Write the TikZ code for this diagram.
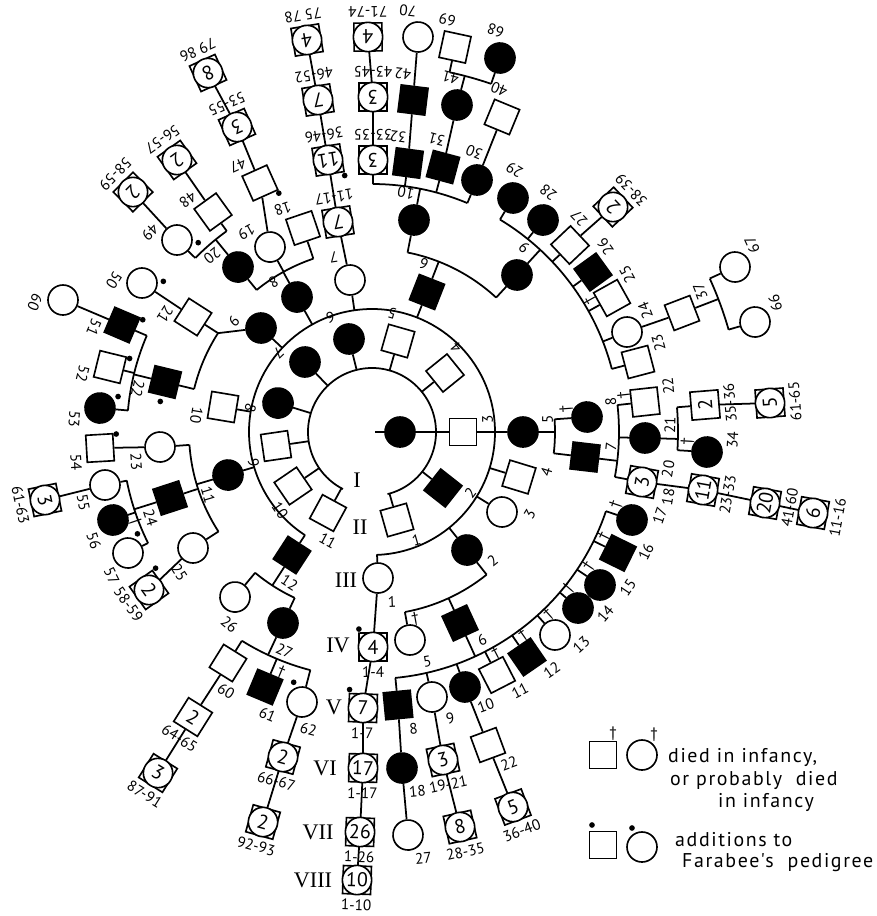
\documentclass[tikz,border=0pt]{standalone}
\usepackage{fontspec}
\setmainfont{PT Sans}
\newfontfamily\romfont{Liberation Serif}
\newfontfamily\legfont[LetterSpace=8]{PT Sans}
\usetikzlibrary{calc}

\begin{document}
\begin{tikzpicture}[x=0.3mm,y=-0.3mm,
  ln/.style={line width=1.5pt},
  sym/.style={draw,line width=1.4pt,inner sep=0pt,fill=white},
  male/.style={sym,rectangle,minimum size=8.1mm},
  maleaff/.style={male,fill=black},
  fem/.style={sym,circle,minimum size=9mm},
  femaff/.style={fem,fill=black},
  grpsq/.style={sym,rectangle,minimum size=8.4mm},
  grpc/.style={sym,circle,minimum size=8.8mm,font=\fontsize{17}{17}\selectfont},
  grps/.style={circle,inner sep=0pt,font=\fontsize{17}{17}\selectfont},
  lab/.style={inner sep=0pt,font=\fontsize{13}{13}\selectfont},
  rom/.style={inner sep=0pt,font=\romfont\fontsize{19}{19}\selectfont},
  leg/.style={anchor=west,inner sep=0pt,font=\legfont\fontsize{17}{17}\selectfont},
  dotm/.style={circle,fill=black,inner sep=0pt,minimum size=1.7mm},
  dagm/.style={inner sep=0pt,font=\fontsize{13}{13}\selectfont}]
\useasboundingbox (0,0) rectangle (877,916);
\coordinate (C) at (372,432);
\coordinate (c0) at (375,432);
\node[femaff] (gi) at (400,432) {};
\draw[ln] (c0) -- ($(C)+(0:64)$);
\foreach \sa/\ea/\rad in {76/-243/64, 88/-237/123, 79.6/51.2/183, 6.7/-4/183, -47.3/-78.8/183,
  -108.7/-129.1/183, -147.3/-166.4/183, 176/147/183, 129.7/115/183, 84.6/18.7/247, 10.5/-6.3/247,
  -14.7/-58.9/248, -67.4/-89.8/248, -125.9/-135.4/248, -156.8/-175/245, 168.8/153.6/250,
  121.9/104.5/246, 3.4/-4.6/306, -71.1/-77.8/368, -16/-24.4/371}
  \draw[ln] ($(C)+(\sa:\rad)$) arc[start angle=\sa, end angle=\ea, radius=\rad];
\foreach \nm/\x/\y/\st/\lb/\rad/\mk in {
  ii1/397/520/male/1/64/n, ii2/443/488/maleaff/2/64/n, ii3/463/432/male/3/64/n,
  ii4/445/373/male/4/64/n, ii5/398/341/male/5/64/n, ii6/349/339/femaff/6/64/n,
  ii7/305/362/femaff/7/64/n, ii8/278/403/femaff/8/64/n, ii9/276/446/male/9/64/n,
  ii10/293/486/male/10/64/n, ii11/328/513/male/11/64/n,
  iii1/378/578/fem/1/123/n, iii2/467/550/femaff/2/123/n, iii3/502/512/fem/3/123/n,
  iii4/519/477/male/4/123/n, iii5/523/432/femaff/5/123/n, iii6/427/292/maleaff/6/123/n,
  iii7/350/280/fem/7/123/n, iii8/297/297/femaff/8/123/n, iii9/261/328/femaff/9/123/n,
  iii10/223/407/male/10/123/n, iii11/228/475/femaff/11/123/n, iii12/292/555/maleaff/12/123/n,
  iv5/410/640/fem/5/183/c, iv6/460/623/maleaff/6/183/n, iv7/585/457/maleaff/7/183/n,
  iv8/587/417/femaff/8/183/c, iv9/517/275/femaff/9/183/n, iv10/414/220/femaff/10/183/n,
  iv18/303/228/male/18/183/n, iv19/270/247/fem/19/183/n, iv20/238/267/femaff/20/183/n,
  iv21/193/317/male/21/183/n, iv22/165/382/maleaff/22/183/r, iv23/160/447/fem/23/183/n,
  iv24/170/498/maleaff/24/183/n, iv25/193/548/fem/25/183/n, iv26/235/597/fem/26/183/n,
  iv27/283/623/femaff/27/183/n,
  v8/398/705/maleaff/8/247/n, v9/432/697/fem/9/247/n, v10/465/687/femaff/10/247/n,
  v11/497/675/male/11/247/c, v12/527/657/maleaff/12/247/c, v13/555/635/fem/13/247/c,
  v14/578/608/femaff/14/247/c, v15/600/585/femaff/15/247/c, v16/618/553/maleaff/16/247/c,
  v17/632/520/femaff/17/247/c, v21/645/438/femaff/21/247/n, v22/645/402/male/22/247/c,
  v23/638/362/male/23/248/n, v24/627/332/fem/24/248/n, v25/612/298/male/25/248/c,
  v26/593/272/maleaff/26/248/n, v27/570/245/male/27/248/n, v28/543/220/femaff/28/248/n,
  v29/513/198/femaff/29/248/n, v30/477/180/femaff/30/248/n, v31/443/167/maleaff/31/248/n,
  v32/408/163/maleaff/32/248/n, v47/260/183/male/47/0/d, v48/213/212/male/48/248/n,
  v49/177/240/fem/49/248/d, v50/142/283/fem/50/0/d, v51/122/325/maleaff/51/245/d,
  v52/110/367/male/52/245/d, v53/100/408/femaff/53/245/d, v54/100/448/male/54/0/d,
  v55/105/485/fem/55/250/n, v56/113/520/femaff/56/250/c, v57/128/553/fem/57/250/d,
  v60/228/663/male/60/246/n, v61/265/687/maleaff/61/246/c, v62/302/702/fem/62/246/d,
  vi18/402/768/femaff/18/0/n, vi22/488/745/male/22/0/n, vi34/707/452/femaff/34/306/c,
  vi37/682/313/male/37/0/n, vi40/502/117/male/40/0/n, vi41/457/105/femaff/41/0/n,
  vi42/413/100/maleaff/42/0/n, vi60/63/300/fem/60/0/n,
  vii27/408/835/fem/27/0/n, vii66/755/322/fem/66/371/n, vii67/735/267/fem/67/371/n,
  vii68/500/58/femaff/68/368/n, vii69/455/47/male/69/368/n, vii70/418/37/fem/70/0/n}{
  \pgfmathsetmacro\ang{atan2(\y-432,\x-372)}
  \pgfmathsetmacro\srot{0-(\ang)}
  \pgfmathsetmacro\lrot{90-(\ang)}
  \node[\st,rotate=\srot] (\nm) at (\x,\y) {};
  \node[lab,rotate=\lrot] at ($(\nm)+(\ang-28:28)$) {\lb};
  \ifnum\rad>0 \draw[ln] ($(C)+(\ang:\rad)$) -- (\nm); \fi
  \if d\mk \node[dotm] at ($(\nm)+(\ang+180:17)+(\ang+90:13)$) {}; \fi
  \if r\mk \node[dotm] at ($(\nm)+(\ang-90:20)$) {}; \fi
  \if c\mk \node[dagm,rotate=\lrot] at ($(\nm)+(\ang+180:20)+(\ang-90:9)$) {†}; \fi
}
\foreach \nm/\x/\y/\k/\rg/\rad/\mk/\st in {
  g1/373/647/4/1-4/0/d/grpc, g2/363/708/7/1-7/0/d/grpc, g3/363/768/17/1-17/0/n/grpc,
  g4/360/832/26/1-26/0/n/grpc, g5/357/880/10/1-10/0/n/grpc, g6/443/760/3/19-21/0/n/grpc,
  g7/460/827/8/28-35/0/n/grpc, g8/513/807/5/36-40/0/n/grpc, g9/642/482/3/{}/247/n/grpc,
  g10/703/490/11/23-33/0/n/grpc, g11/765/503/20/41-60/0/n/grpc, g12/813/513/6/11-16/0/n/grpc,
  g13/705/405/2/35-36/306/n/grps, g14/770/403/5/61-65/0/n/grpc, g15/613/207/2/38-39/0/n/grpc,
  g16/373/160/3/33-35/248/n/grpc, g17/373/97/3/43-45/0/n/grpc, g18/368/37/4/71-74/0/n/grpc,
  g19/338/222/7/11-17/0/n/grpc, g20/328/160/11/36-46/0/d/grpc, g21/318/100/7/46-52/0/n/grpc,
  g22/307/40/4/75 78/0/n/grpc, g23/237/127/3/53-55/0/n/grpc, g24/208/73/8/79 86/0/n/grpc,
  g25/177/160/2/56-57/0/n/grpc, g26/133/192/2/58-59/0/n/grpc, g27/45/500/3/61-63/0/n/grpc,
  g28/149/590/2/58-59/0/d/grpc, g29/193/717/2/64-65/0/n/grps, g30/158/773/3/87-91/0/n/grpc,
  g31/283/757/2/66-67/0/n/grpc, g32/263/822/2/92-93/0/n/grpc}{
  \pgfmathsetmacro\ang{atan2(\y-432,\x-372)}
  \pgfmathsetmacro\srot{0-(\ang)}
  \pgfmathsetmacro\lrot{90-(\ang)}
  \node[grpsq,rotate=\srot] (\nm) at (\x,\y) {};
  \node[\st,rotate=\lrot] at (\nm) {\k};
  \node[lab,rotate=\lrot] at ($(\nm)+(\ang:25)$) {\rg};
  \ifnum\rad>0 \draw[ln] ($(C)+(\ang:\rad)$) -- (\nm); \fi
  \if d\mk \node[dotm] at ($(\nm)+(\ang+180:18)+(\ang+90:14)$) {}; \fi
}
\node[lab,rotate=80] at (668,469) {20};
\node[lab,rotate=80] at (668,497) {18};
\foreach \pa/\sa/\rad in {ii3/0/123, iii2/51.2/183, iii5/0/183, iii6/-68.6/183, iii8/-119/183,
  iii9/-147.3/183, iii11/163.4/183, iii12/123/183, iv6/65.3/247, iv7/6.7/247, iv9/-47.3/248,
  iv10/-78.8/248, iv20/-129.1/248, iv22/-166.4/245, iv24/162/250, iv27/115/246, v21/1.3/306,
  vi41/-75.4/368, vi37/-21/371}
  \draw[ln] (\pa) -- ($(C)+(\sa:\rad)$);
\foreach \pa/\ch in {iii1/g1, g1/g2, g2/g3, g3/g4, g4/g5, v8/vi18, vi18/vii27, v9/g6, g6/g7,
  v10/vi22, vi22/g8, g9/g10, g10/g11, g11/g12, g13/g14, v24/vi37, v27/g15, v30/vi40, v31/vi41,
  v32/vi42, vi42/vii70, g16/g17, g17/g18, iii7/g19, g19/g20, g20/g21, g21/g22, iv19/v47,
  v47/g23, g23/g24, v48/g25, v49/g26, iv21/v50, v51/vi60, iv23/v54, v55/g27, iv25/g28,
  v60/g29, g29/g30, v62/g31, g31/g32}
  \draw[ln] (\pa) -- (\ch);
\foreach \r/\x/\y in {I/357/480, II/360/527, III/346/580, IV/338/645, V/334/707, VI/325/768,
  VII/318/832, VIII/313/880}
  \node[rom] (r\r) at (\x,\y) {\r};
\node[male] (lm1) at (603,755) {};
\node[fem] (lf1) at (642,755) {};
\node[dagm] at (613,734) {†};
\node[dagm] at (654,735) {†};
\node[leg] (lt1) at (668,757) {died in infancy,};
\node[leg] (lt2) at (670,780) {or probably \ died};
\node[leg] (lt3) at (718,802) {in infancy};
\node[male] (lm2) at (603,845) {};
\node[fem] (lf2) at (642,847) {};
\node[dotm] at (592,825) {};
\node[dotm] at (632,828) {};
\node[leg] (lt4) at (675,840) {additions to};
\node[leg] (lt5) at (682,863) {Farabee's \ pedigree};
\end{tikzpicture}
\end{document}
